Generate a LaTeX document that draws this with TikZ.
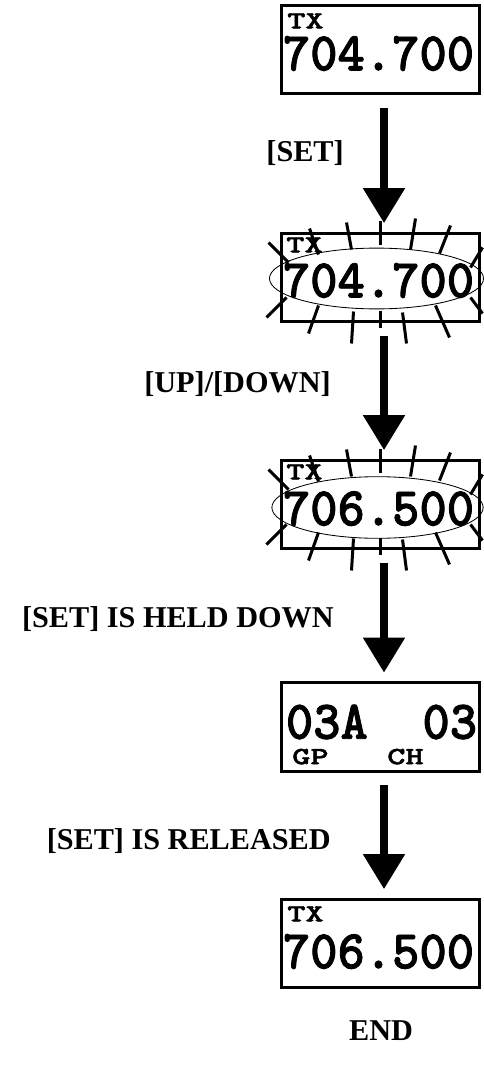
\documentclass[tikz,border=0pt]{standalone}
\usepackage{fontspec}
\usepackage{graphicx}
\setmainfont{Liberation Serif}
\newfontfamily\lcdfont{lmmonolt10-bold.otf}[FakeBold=1.6]
\usetikzlibrary{positioning,arrows.meta}

% tall lcd digits, flat lcd tags
\newcommand{\lcd}[1]{\scalebox{1}[1.05]{#1}}
\newcommand{\lcdtag}[1]{\scalebox{1.12}[0.8]{#1}}
% blinking marks round a display
\newcommand{\flashrays}[1]{%
  \foreach \ax/\ay/\bx/\by in {-112/-35/-92/-15,-71/-49/-62/-23,-34/-55/-29/-28,0/-56/0/-32,
      35/-59/30/-28,70/-52/59/-24,102/-30/90/-10,-114/40/-94/20,-72/56/-62/28,
      -29/66/-27/34,0/33/0/50,22/35/26/66,55/28/69/60,90/20/102/36}
    \draw[ray] ([shift={(\ax,\ay)}]#1.center) -- ([shift={(\bx,\by)}]#1.center);}

\begin{document}
\begin{tikzpicture}[x=0.025cm,y=-0.025cm,
  disp/.style={draw,line width=0.075cm,minimum width=4.95cm,minimum height=2.2cm,inner sep=0},
  tag/.style={inner sep=0,anchor=north west,font=\lcdfont\fontsize{22}{22}\selectfont},
  digs/.style={inner sep=0,font=\lcdfont\fontsize{37}{38}\selectfont},
  lbl/.style={inner sep=0,anchor=east,font=\fontsize{21.5}{24}\selectfont\bfseries},
  flow/.style={line width=0.2cm,-{Triangle[width=1cm,length=0.875cm]},shorten <=0.32cm,shorten >=0.22cm},
  ray/.style={line width=0.075cm},
  oval/.style={line width=0.6pt}]
  \useasboundingbox (0,0) rectangle (484,1070);
  \node[disp] (box1) at (380.5,49.5) {};
  \node[disp] (box2) at (380.5,277.5) {};
  \node[disp] (box3) at (380.5,504.5) {};
  \node[disp] (box4) at (380.5,727) {};
  \node[disp] (box5) at (380.5,943.5) {};
  % display texts
  \node[tag] (tx1) at ([shift={(7,9)}]box1.north west) {\lcdtag{TX}};
  \node[digs] (f1) at ([shift={(-2,4)}]box1.center) {\lcd{704.700}};
  \node[tag] (tx2) at ([shift={(6,5)}]box2.north west) {\lcdtag{TX}};
  \node[digs] (f2) at ([shift={(-2,3)}]box2.center) {\lcd{704.700}};
  \node[tag] (tx3) at ([shift={(6,5)}]box3.north west) {\lcdtag{TX}};
  \node[digs] (f3) at ([shift={(-2,4)}]box3.center) {\lcd{706.500}};
  \node[digs] (grp) at ([shift={(1,-5)}]box4.center) {\lcd{03A\ \ 03}};
  \node[tag] (gp) at ([shift={(12,67)}]box4.north west) {\lcdtag{GP}};
  \node[tag] (ch) at ([shift={(107,67)}]box4.north west) {\lcdtag{CH}};
  \node[tag] (tx5) at ([shift={(7,8)}]box5.north west) {\lcdtag{TX}};
  \node[digs] (f5) at ([shift={(-2,8)}]box5.center) {\lcd{706.500}};
  % blinking
  \draw[oval] ([shift={(-4,1)}]box2.center) ellipse [x radius=2.675cm,y radius=0.76cm];
  \draw[oval] ([shift={(-3,3)}]box3.center) ellipse [x radius=2.64cm,y radius=0.77cm];
  \flashrays{box2}
  \flashrays{box3}
  % steps
  \draw[flow] ([shift={(3.5,0)}]box1.south) -- ([shift={(3.5,0)}]box2.north);
  \draw[flow] ([shift={(3.5,0)}]box2.south) -- ([shift={(3.5,0)}]box3.north);
  \draw[flow] ([shift={(3.5,0)}]box3.south) -- ([shift={(3.5,0)}]box4.north);
  \draw[flow] ([shift={(3.5,0)}]box4.south) -- ([shift={(3.5,0)}]box5.north);
  \node[lbl] (k1) at (344,153) {[SET]};
  \node[lbl] (k2) at (331,384) {[UP]/[DOWN]};
  \node[lbl] (k3) at (334,619) {[SET] IS HELD DOWN};
  \node[lbl] (k4) at (331,841) {[SET] IS RELEASED};
  \node[lbl,anchor=center] (fin) at (381,1031) {END};
\end{tikzpicture}
\end{document}
